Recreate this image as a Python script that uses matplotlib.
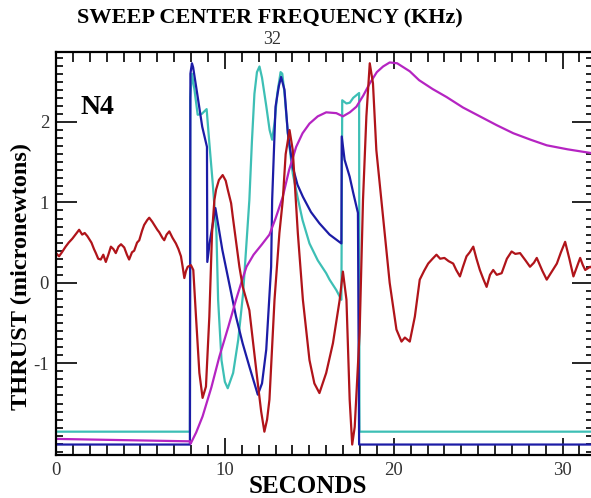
import matplotlib
matplotlib.use('Agg')
import matplotlib.pyplot as plt
from matplotlib.ticker import MultipleLocator, FixedLocator

# thrust traces (seconds, micronewtons)
red_t = [0.0, 0.18, 0.35, 0.57, 0.75, 0.97, 1.15, 1.37, 1.55, 1.7, 1.86, 2.1, 2.25, 2.36, 2.5, 2.65, 2.8, 2.95,
         3.1, 3.25, 3.4, 3.54, 3.7, 3.85, 4.04, 4.2, 4.33, 4.5, 4.63, 4.8, 4.93, 5.1, 5.22, 5.4, 5.52, 5.7, 5.82,
         6.0, 6.11, 6.3, 6.41, 6.55, 6.71, 6.9, 7.1, 7.25, 7.4, 7.5, 7.6, 7.7, 7.8, 7.99, 8.13, 8.29, 8.49, 8.68,
         8.88, 9.08, 9.24, 9.38, 9.48, 9.65, 9.87, 10.05, 10.17, 10.37, 10.47, 10.86, 11.06, 11.45, 11.95, 12.15,
         12.34, 12.5, 12.64, 12.94, 13.23, 13.43, 13.6, 13.83, 14.02, 14.32, 14.62, 15.01, 15.3, 15.6, 16.0, 16.4,
         16.8, 16.99, 17.2, 17.39, 17.54, 17.69, 17.98, 18.18, 18.38, 18.58, 18.77, 18.97, 19.37, 19.76, 20.16,
         20.46, 20.66, 20.95, 21.25, 21.54, 21.8, 22.04, 22.3, 22.53, 22.75, 23.0, 23.25, 23.52, 23.7, 23.92, 24.1,
         24.31, 24.5, 24.71, 24.9, 25.1, 25.3, 25.5, 25.7, 25.89, 26.1, 26.39, 26.7, 26.98, 27.2, 27.48, 27.8,
         28.07, 28.3, 28.47, 28.8, 29.06, 29.3, 29.66, 29.9, 30.15, 30.4, 30.64, 30.85, 31.04, 31.2, 31.34, 31.63,
         31.8]
red_v = [0.37, 0.33, 0.38, 0.45, 0.5, 0.55, 0.6, 0.66, 0.6, 0.62, 0.58, 0.5, 0.42, 0.37, 0.3, 0.29, 0.35, 0.26,
         0.35, 0.45, 0.42, 0.37, 0.45, 0.48, 0.44, 0.35, 0.29, 0.38, 0.4, 0.5, 0.53, 0.65, 0.72, 0.78, 0.81, 0.76,
         0.72, 0.66, 0.63, 0.56, 0.53, 0.6, 0.64, 0.56, 0.49, 0.42, 0.33, 0.2, 0.06, 0.15, 0.2, 0.22, 0.16, -0.42,
         -1.12, -1.43, -1.29, -0.42, 0.62, 1.03, 1.16, 1.28, 1.34, 1.27, 1.16, 0.99, 0.82, 0.2, -0.05, -0.34,
         -1.25, -1.6, -1.85, -1.7, -1.45, -0.21, 0.62, 1.03, 1.6, 1.9, 1.65, 0.62, -0.21, -0.96, -1.25, -1.37,
         -1.12, -0.75, -0.21, 0.14, -0.21, -1.45, -2.01, -1.79, -0.62, 1.03, 2.07, 2.73, 2.48, 1.65, 0.82, 0.0,
         -0.58, -0.73, -0.68, -0.73, -0.42, 0.04, 0.15, 0.24, 0.3, 0.35, 0.3, 0.31, 0.27, 0.24, 0.16, 0.08, 0.2,
         0.33, 0.38, 0.45, 0.3, 0.16, 0.05, -0.05, 0.1, 0.16, 0.1, 0.12, 0.3, 0.39, 0.36, 0.37, 0.28, 0.2, 0.25,
         0.31, 0.15, 0.04, 0.12, 0.24, 0.38, 0.51, 0.3, 0.08, 0.2, 0.31, 0.22, 0.16, 0.2, 0.18]

blue_t = [0, 7.93, 7.96, 8.05, 8.12, 8.4, 8.66, 8.94, 8.96, 9.1, 9.44, 9.85, 10.25, 10.66, 11.05, 11.45, 11.95,
          12.2, 12.45, 12.74, 12.8, 13.0, 13.2, 13.33, 13.53, 13.73, 14.02, 14.3, 14.62, 15.1, 15.6, 16.2, 16.9,
          16.92, 17.09, 17.39, 17.6, 17.88, 17.95, 31.8]
blue_v = [-2.01, -2.01, 2.6, 2.73, 2.68, 2.3, 1.94, 1.69, 0.26, 0.5, 0.93, 0.41, 0.0, -0.42, -0.75, -1.04, -1.39,
          -1.25, -0.83, 0.2, 1.03, 2.19, 2.45, 2.56, 2.4, 1.86, 1.44, 1.22, 1.07, 0.88, 0.74, 0.6, 0.49,
          1.82, 1.53, 1.32, 1.12, 0.87, -2.01, -2.01]

cyan_t = [0, 7.93, 7.95, 8.05, 8.2, 8.39, 8.63, 8.92, 9.08, 9.28, 9.5, 9.6, 9.8, 10.0, 10.17, 10.49, 10.79, 11.08,
          11.32, 11.45, 11.6, 11.75, 11.9, 12.05, 12.2, 12.45, 12.65, 12.8, 12.95, 13.1, 13.3, 13.4, 13.53, 13.73,
          14.02, 14.32, 14.6, 15.01, 15.5, 16.0, 16.2, 16.6, 16.9, 16.95, 17.2, 17.4, 17.6, 17.95, 17.97, 31.8]
cyan_v = [-1.85, -1.85, 2.3, 2.6, 2.4, 2.09, 2.1, 2.16, 1.74, 1.24, 0.62, -0.21, -0.96, -1.23, -1.31, -1.12,
          -0.71, -0.13, 0.62, 1.03, 1.75, 2.35, 2.62, 2.69, 2.55, 2.2, 1.9, 1.78, 2.0, 2.35, 2.62, 2.6, 2.36, 1.86,
          1.36, 1.05, 0.78, 0.49, 0.28, 0.12, 0.04, -0.09, -0.21, 2.27, 2.23, 2.24, 2.3, 2.36, -1.85, -1.85]

mag_t = [0, 7.93, 7.97, 8.3, 8.68, 9.2, 9.67, 10.2, 10.66, 11.0, 11.28, 11.7, 12.2, 12.64, 13.0, 13.43, 13.8,
         14.22, 14.6, 15.01, 15.5, 16.0, 16.6, 16.99, 17.4, 17.79, 18.2, 18.58, 19.0, 19.37, 19.76, 20.2, 20.95,
         21.5, 22.3, 23.13, 24.1, 25.1, 26.1, 27.08, 28.1, 29.06, 30.3, 31.8]
mag_v = [-1.94, -1.97, -2.0, -1.86, -1.66, -1.3, -0.92, -0.55, -0.21, 0.02, 0.2, 0.35, 0.48, 0.6, 0.8, 1.07, 1.4,
         1.69, 1.86, 1.98, 2.07, 2.12, 2.11, 2.07, 2.12, 2.19, 2.33, 2.48, 2.62, 2.69, 2.74, 2.73, 2.63, 2.52,
         2.41, 2.31, 2.18, 2.07, 1.96, 1.86, 1.78, 1.71, 1.66, 1.61]

y_labels = [-1, 0, 1, 2]

plt.rcParams['font.family'] = 'Liberation Serif'
plt.rcParams['axes.unicode_minus'] = False

fig = plt.figure(figsize=(5.91, 4.98), dpi=100)
ax = fig.add_axes([56 / 591, 43 / 498, 537 / 591, 403 / 498])

lw = 1.6
ax.plot(cyan_t, cyan_v, color='#3dbfb5', lw=lw)
ax.plot(blue_t, blue_v, color='#1c1ca6', lw=lw)
ax.plot(mag_t, mag_v, color='#b524c2', lw=lw)
ax.plot(red_t, red_v, color='#b0141a', lw=lw)

ax.set_xlim(0, 31.8)
ax.set_ylim(-2.14, 2.87)

ax.xaxis.set_major_locator(MultipleLocator(10))
ax.xaxis.set_minor_locator(MultipleLocator(1))
ax.yaxis.set_major_locator(FixedLocator(y_labels))
ax.yaxis.set_minor_locator(MultipleLocator(0.1))
ax.tick_params(which='both', direction='in', top=True, right=True, width=1.2, colors='black',
               labelcolor='#333333', labelsize=13.5)
ax.tick_params(axis='x', which='major', length=12, pad=5)
ax.tick_params(axis='x', which='minor', length=7)
ax.tick_params(axis='y', which='major', length=15, pad=5)
ax.tick_params(axis='y', which='minor', length=5)
for s in ax.spines.values():
    s.set_linewidth(1.6)

ax.text(1.45, 2.1, 'N4', fontsize=20, fontweight='bold')

fig.text(270 / 591, 1 - 18 / 498, 'SWEEP CENTER FREQUENCY (KHz)', fontsize=16, fontweight='bold',
         ha='center', va='center')
fig.text(272 / 591, 1 - 39 / 498, '32', fontsize=13, color='#333333', ha='center', va='center')
fig.text(308 / 591, 1 - 486 / 498, 'SECONDS', fontsize=18, fontweight='bold', ha='center', va='center')
fig.text(21 / 591, 1 - 276 / 498, 'THRUST (micronewtons)', fontsize=17.5, fontweight='bold',
         rotation=90, ha='center', va='center')

fig.savefig('out.png', dpi=100)
